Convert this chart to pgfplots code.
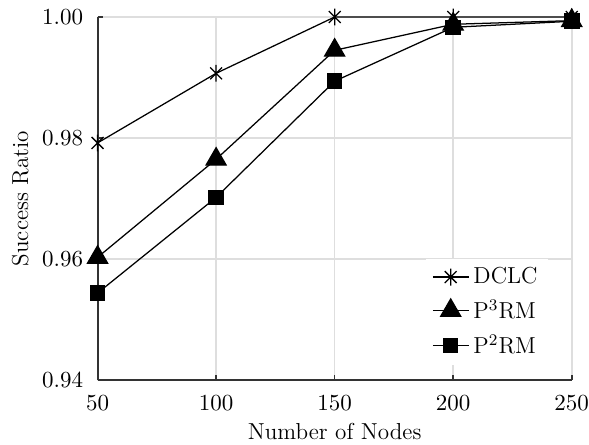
\documentclass[border=0pt]{standalone}
\usepackage{pgfplots}
\pgfplotsset{compat=1.18}
\pgfdeclareplotmark{xstar}{%
  \pgfpathmoveto{\pgfqpoint{0pt}{\pgfplotmarksize}}%
  \pgfpathlineto{\pgfqpoint{0pt}{-\pgfplotmarksize}}%
  \pgfpathmoveto{\pgfqpoint{.7071\pgfplotmarksize}{.7071\pgfplotmarksize}}%
  \pgfpathlineto{\pgfqpoint{-.7071\pgfplotmarksize}{-.7071\pgfplotmarksize}}%
  \pgfpathmoveto{\pgfqpoint{-.7071\pgfplotmarksize}{.7071\pgfplotmarksize}}%
  \pgfpathlineto{\pgfqpoint{.7071\pgfplotmarksize}{-.7071\pgfplotmarksize}}%
  \pgfusepathqstroke}
\begin{document}
\begin{tikzpicture}
\begin{axis}[
  scale only axis,
  width=225.7pt, height=172.9pt,
  xmin=50, xmax=250, ymin=0.94, ymax=1.00,
  xtick={50,100,150,200,250},
  ytick={0.94,0.96,0.98,1.00},
  yticklabel style={/pgf/number format/fixed, /pgf/number format/fixed zerofill, /pgf/number format/precision=2, inner xsep=0pt},
  xticklabel style={inner xsep=0pt},
  ticklabel style={font=\fontsize{11}{13.6}\selectfont},
  yticklabel shift=6.7pt,
  xticklabel shift=3.8pt,
  axis lines*=left,
  axis line style={black!80, line width=0.9pt},
  tick align=inside,
  tick style={black!80, line width=0.8pt},
  major tick length=2.5pt,
  grid=major,
  major grid style={black!13, line width=0.8pt},
  label style={font=\fontsize{11}{13.6}\selectfont},
  xlabel={Number of Nodes},
  ylabel={Success Ratio},
  xlabel style={inner sep=2.5pt},
  ylabel style={inner sep=5.7pt},
  ylabel shift=0.5pt,
  clip=false,
  legend style={at={(0.951,0.041)}, anchor=south east, draw=none, fill=white, row sep=2pt, font=\fontsize{11}{13.6}\selectfont, inner xsep=3pt},
  legend cell align=left,
  after end axis/.code={\path ([yshift=8.1pt]rel axis cs:0,1);},
]
\addplot[black, mark=xstar, mark size=4pt, line width=0.6pt] coordinates {(50,0.9792) (100,0.9907) (150,1.000) (200,1.000) (250,1.000)};
\addlegendentry{DCLC}
\addplot[black, mark=triangle*, mark size=5.5pt, line width=0.6pt] coordinates {(50,0.9603) (100,0.9765) (150,0.9945) (200,0.9988) (250,0.9994)};
\addlegendentry{P\textsuperscript{3}RM}
\addplot[black, mark=square*, mark size=3.4pt, line width=0.6pt] coordinates {(50,0.9544) (100,0.9702) (150,0.9894) (200,0.9983) (250,0.9993)};
\addlegendentry{P\textsuperscript{2}RM}
\end{axis}
\end{tikzpicture}
\end{document}
